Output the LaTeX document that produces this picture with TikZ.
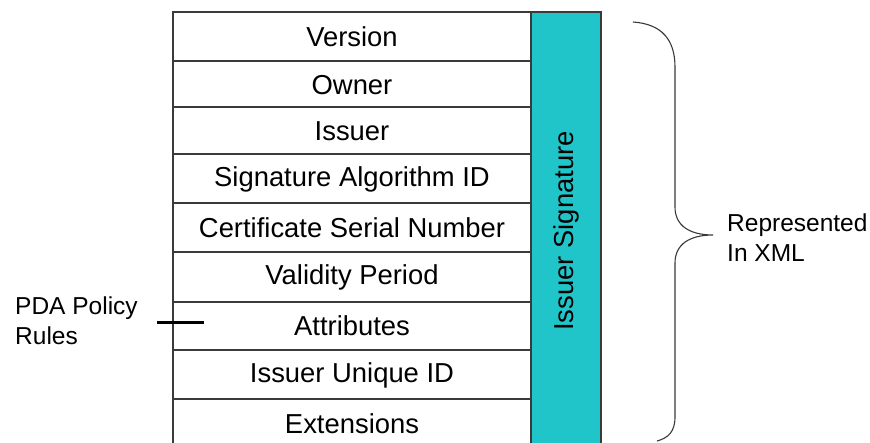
\documentclass[tikz,border=0pt]{standalone}
\usepackage{fontspec}
\setmainfont{Liberation Sans}
\definecolor{sigcyan}{HTML}{20C5C9}
\definecolor{linegray}{HTML}{3A3A3A}
\begin{document}
\begin{tikzpicture}[x=1pt,y=-1pt,
  cell/.style={font=\fontsize{27.4}{30}\selectfont, anchor=center, inner sep=0pt},
  sidelabel/.style={font=\fontsize{24.5}{29.5}\selectfont, align=left, anchor=north west, inner sep=0pt},
  grid/.style={draw=linegray, line width=1.4pt},
  bracestyle/.style={draw=linegray, line width=1.1pt}]
\useasboundingbox (0,0) rectangle (870,443);
\clip (0,0) rectangle (870,443);
\fill[white] (0,0) rectangle (870,443);
% signature column
\filldraw[fill=sigcyan, grid] (531,12) rectangle (601,460);
% table outline
\draw[grid] (173,460) -- (173,12) -- (531,12);
\foreach \yy in {61,107,154,203,252,302,350,399}
  \draw[grid] (173,\yy) -- (531,\yy);
% row labels
\node[cell] (version) at (352,37) {Version};
\node[cell] (owner) at (352,85) {Owner};
\node[cell] (issuer) at (352,131) {Issuer};
\node[cell] (sigalg) at (352,179) {Signature Algorithm ID};
\node[cell] (serial) at (352,228) {Certificate Serial Number};
\node[cell] (validity) at (352,277) {Validity Period};
\node[cell] (attr) at (352,326) {Attributes};
\node[cell] (uid) at (352,375) {Issuer Unique ID};
\node[cell] (ext) at (352,424) {Extensions};
\node[cell, rotate=90] (issig) at (566,231) {Issuer Signature};
% PDA label and tick
\node[sidelabel] (pda) at (15,297) {PDA Policy\\Rules};
\coordinate (tickL) at (157,323);
\coordinate (tickR) at (204,323);
\draw[draw=black, line width=3pt] (tickL) -- (tickR);
% brace
\coordinate (btop) at (633,22);
\coordinate (btip) at (713,235);
\coordinate (bbot) at (657,441);
\draw[bracestyle] (btop) .. controls (662,24) and (675,40) .. (675,67)
  -- (675,207) .. controls (675,226) and (690,235) .. (btip)
  .. controls (690,235) and (675,244) .. (675,263)
  -- (675,417) .. controls (675,432) and (668,438) .. (bbot);
\node[sidelabel] (xml) at (727,214) {Represented\\In XML};
\end{tikzpicture}
\end{document}
